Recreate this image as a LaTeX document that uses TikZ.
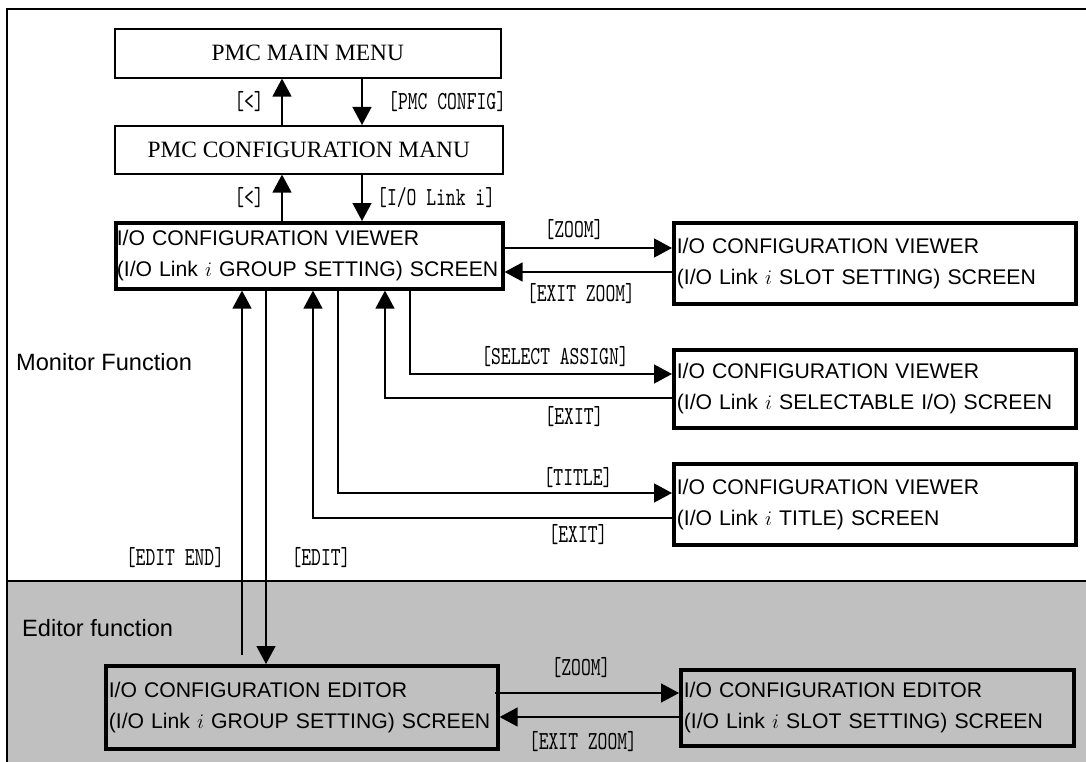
\documentclass[tikz,border=0pt]{standalone}
\usepackage{fontspec}
\setmainfont{Liberation Serif}
\setsansfont{Liberation Sans}
\newfontfamily\keyfont[FakeStretch=0.72]{lmmono10-regular.otf}
\usetikzlibrary{arrows.meta}
\definecolor{editgray}{HTML}{C0C0C0}

\begin{document}
\begin{tikzpicture}[x=1pt,y=-1pt,
		menu/.style={draw,line width=1.6pt,anchor=north west,inner sep=0pt,font=\fontsize{23.4}{28}\selectfont\rmfamily},
		screen/.style={draw,line width=3.6pt,anchor=north west,align=left,inner xsep=3pt,inner ysep=0pt,font=\fontsize{21.2}{31}\selectfont\sffamily},
		key/.style={inner sep=0pt,font=\fontsize{26}{28}\selectfont\keyfont},
		area/.style={anchor=west,inner sep=0pt,font=\fontsize{23.6}{28}\selectfont\sffamily},
		link/.style={line width=1.4pt,-{Triangle[length=18pt,width=19pt]}}]

		\useasboundingbox (0,0) rectangle (1086,762);

		\fill[editgray] (7,581) rectangle (1095,770); %editor area
		\draw[line width=2pt] (7,770)--(7,9)--(1095,9); %frame
		\draw[line width=2pt] (7,581)--(1095,581);
		\node[area] (monlbl) at (16,362) {Monitor Function};
		\node[area] (edlbl) at (22,628) {Editor function};

		\node[menu,minimum width=386pt,minimum height=49pt] (main) at (114,28) {PMC MAIN MENU};
		\node[menu,minimum width=388pt,minimum height=48pt] (cfg) at (114,125) {PMC CONFIGURATION MANU};

		\node[screen,minimum height=66pt,inner xsep=1pt,text width=385pt] (grp) at (114,221) {I/O CONFIGURATION VIEWER\\(I/O Link $i$ GROUP SETTING) SCREEN};
		\node[screen,minimum height=81pt,text width=396pt] (slot) at (672,221) {I/O CONFIGURATION VIEWER\\(I/O Link $i$ SLOT SETTING) SCREEN};
		\node[screen,minimum height=78pt,text width=396pt] (sel) at (672,348) {I/O CONFIGURATION VIEWER\\(I/O Link $i$ SELECTABLE I/O) SCREEN};
		\node[screen,minimum height=81pt,text width=396pt] (title) at (672,462) {I/O CONFIGURATION VIEWER\\(I/O Link $i$ TITLE) SCREEN};
		\node[screen,minimum height=83pt,text width=386pt] (edgrp) at (104,664) {I/O CONFIGURATION EDITOR\\(I/O Link $i$ GROUP SETTING) SCREEN};
		\node[screen,minimum height=76pt,text width=387pt] (edslot) at (679,668) {I/O CONFIGURATION EDITOR\\(I/O Link $i$ SLOT SETTING) SCREEN};

		\coordinate (zin) at (0,248); %arrow levels
		\coordinate (zout) at (0,272);
		\coordinate (sin) at (0,374);
		\coordinate (sout) at (0,398);
		\coordinate (tin) at (0,493);
		\coordinate (tout) at (0,518);
		\coordinate (ezin) at (0,693);
		\coordinate (ezout) at (0,717);

		\draw[link] ([xshift=248pt]main.south west)--([xshift=248pt]cfg.north west);
		\draw[link] ([xshift=168pt]cfg.north west)--([xshift=168pt]main.south west);
		\draw[link] ([xshift=248pt]cfg.south west)--([xshift=248pt]grp.north west);
		\draw[link] ([xshift=168pt]grp.north west)--([xshift=168pt]cfg.south west);

		\draw[link] (grp.east |- zin)--(slot.west |- zin);
		\draw[link] (slot.west |- zout)--(grp.east |- zout);
		\draw[link] ([xshift=296pt]grp.south west) |- (sel.west |- sin);
		\draw[link] (sel.west |- sout) -| ([xshift=271pt]grp.south west);
		\draw[link] ([xshift=224pt]grp.south west) |- (title.west |- tin);
		\draw[link] (title.west |- tout) -| ([xshift=199pt]grp.south west);
		\draw[link] ([xshift=152pt]grp.south west)--([xshift=162pt]edgrp.north west); %edit
		\draw[link] ([xshift=138pt,yshift=9pt]edgrp.north west)--([xshift=128pt]grp.south west);
		\draw[link] ([xshift=-5pt]edgrp.east |- ezin)--(edslot.west |- ezin);
		\draw[link] (edslot.west |- ezout)--(edgrp.east |- ezout);

		\node[key] (kback) at (249,102) {[<]};
		\node[key,anchor=west] (kcfg) at (388,102) {[PMC CONFIG]};
		\node[key] (kback2) at (249,198) {[<]};
		\node[key,anchor=west] (klink) at (377,198) {[I/O Link i]};
		\node[key] (kzoom) at (574,230) {[ZOOM]};
		\node[key] (kexzoom) at (581,294) {[EXIT ZOOM]};
		\node[key] (ksel) at (555,357) {[SELECT ASSIGN]};
		\node[key] (kexsel) at (574,417) {[EXIT]};
		\node[key] (ktitle) at (578,478) {[TITLE]};
		\node[key] (kextitle) at (578,535) {[EXIT]};
		\node[key] (keditend) at (175,558) {[EDIT END]};
		\node[key] (kedit) at (321,558) {[EDIT]};
		\node[key] (kedzoom) at (581,668) {[ZOOM]};
		\node[key] (kedexzoom) at (583,742) {[EXIT ZOOM]};
	\end{tikzpicture}
\end{document}
